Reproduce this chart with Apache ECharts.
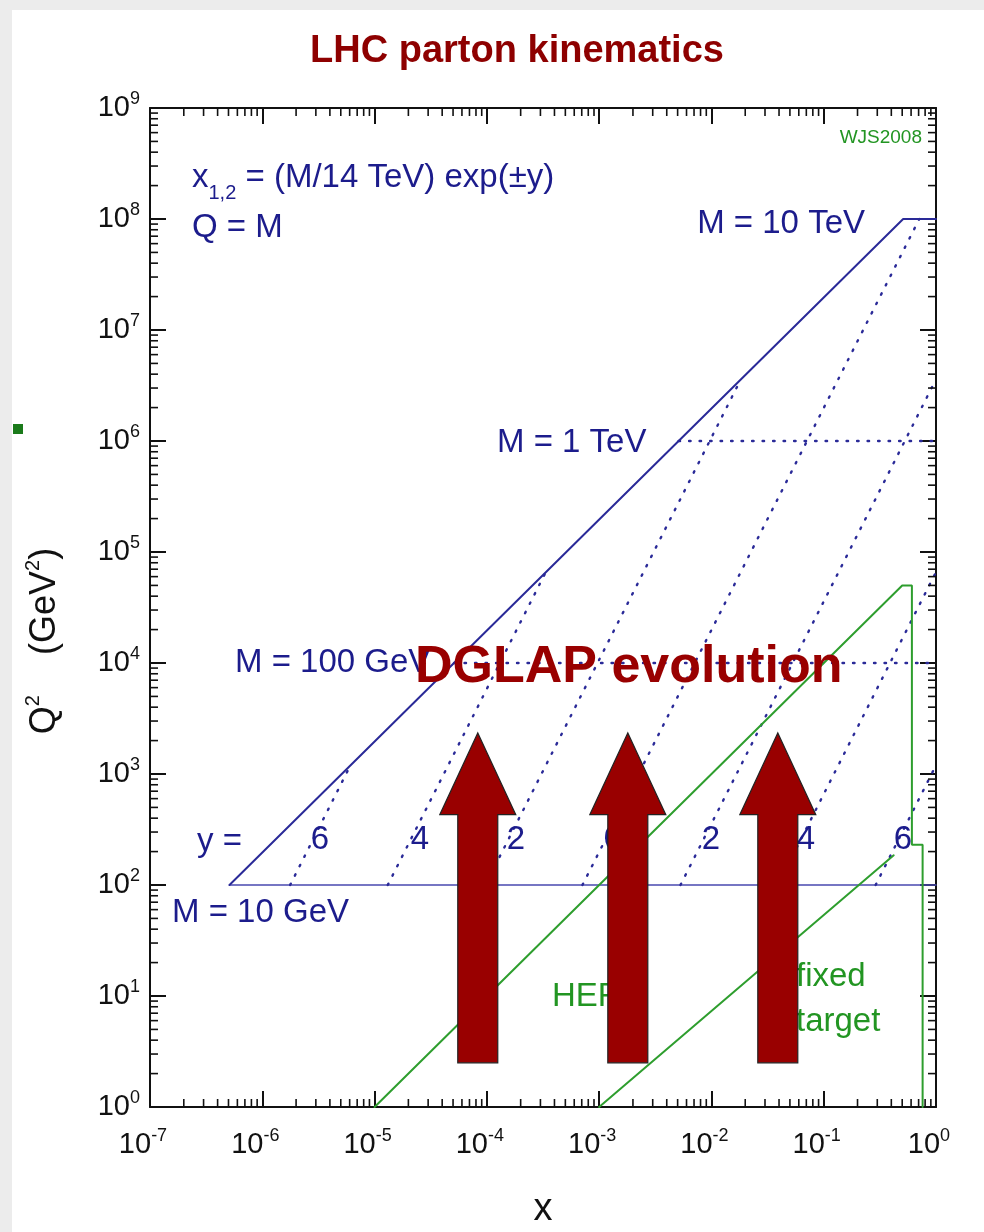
<!DOCTYPE html>
<html>
<head>
    <meta charset="utf-8"/>
    <title>LHC parton kinematics</title>
    <style>
        body {
            margin: 0;
            padding: 0;
            background: #ffffff;
        }

        #chart {
            position: absolute;
            top: 0;
            left: 0;
            width: 984px;
            height: 1232px;
        }
    </style>
    <script src="https://cdn.jsdelivr.net/npm/echarts@6/dist/echarts.min.js"></script>
</head>
<body>
<div id="chart"></div>
<script type="text/javascript">
    // axis ranges (x, Q^2)
    var xRange = [1e-7, 1];
    var qRange = [1, 1e9];

    // solid blue: kinematic limit x = M^2/s, up to M = 10 TeV
    var boundaryLine = [[5.1e-7, 100], [0.51, 1e8], [1, 1e8]];
    // solid blue: M = 10 GeV
    var lowMassLine = [[5.1e-7, 100], [1, 100]];
    // dotted blue: fixed rapidity y = 6, 4, 2, 0, -2, -4, -6
    var rapidityLines = [
        [[1.77e-6, 100], [6.1e-6, 1200]],
        [[1.31e-5, 100], [3.35e-4, 6.6e4]],
        [[9.7e-5, 100], [1.83e-2, 3.6e6]],
        [[7.1e-4, 100], [0.71, 1e8]],
        [[5.3e-3, 100], [1, 3.6e6]],
        [[3.9e-2, 100], [1, 6.6e4]],
        [[0.29, 100], [1, 1200]]
    ];
    // dotted blue: M = 100 GeV and M = 1 TeV
    var massLines = [
        [[5.1e-5, 1e4], [1, 1e4]],
        [[5.1e-3, 1e6], [1, 1e6]]
    ];
    // green: HERA and fixed target regions
    var heraLine = [[1e-5, 1], [0.5, 5e4], [0.61, 5e4], [0.61, 230], [0.76, 230], [0.76, 1]];
    var fixedTargetLine = [[1e-3, 1], [0.42, 185]];
    // DGLAP arrows: x positions and Q^2 of tail, head base, tip
    var arrowX = [8.3e-5, 1.8e-3, 3.9e-2];
    var arrowQ2 = [2.5, 430, 2340];

    var FONT = "'Liberation Sans', Arial, Helvetica, sans-serif";
    var BLUE = '#1c1c8c';
    var LINE_BLUE = '#2a2a98';
    var GREEN = '#2e9e2e';
    var TEXT_GREEN = '#229522';
    var RED = '#990000';

    // minor ticks 2..9 per decade
    var xMinor = [], yMinor = [];
    for (var d = -7; d < 0; d++) {
        for (var k = 2; k <= 9; k++) xMinor.push([k * Math.pow(10, d), 1]);
    }
    for (var e = 0; e < 9; e++) {
        for (var k2 = 2; k2 <= 9; k2++) yMinor.push([1, k2 * Math.pow(10, e)]);
    }

    var tickRich = {
        b: {fontSize: 29, fontFamily: FONT, color: '#111', lineHeight: 36, verticalAlign: 'middle'},
        s: {fontSize: 18, fontFamily: FONT, color: '#111', verticalAlign: 'top'}
    };

    function powLabel(v) {
        var p = Math.round(Math.log10(v));
        return '{b|10}{s|' + p + '}';
    }

    function frameAxis(pos, isX, showLabel) {
        var ax = {
            type: 'log',
            logBase: 10,
            min: isX ? xRange[0] : qRange[0],
            max: isX ? xRange[1] : qRange[1],
            splitNumber: isX ? 7 : 9,
            position: pos,
            axisLine: {show: true, onZero: false, lineStyle: {color: '#111', width: 2}},
            axisTick: {show: true, inside: true, length: 16, lineStyle: {color: '#111', width: 2}},
            splitLine: {show: false},
            axisLabel: {show: false}
        };
        if (showLabel) {
            ax.axisLabel = {
                show: true,
                formatter: powLabel,
                rich: tickRich,
                margin: isX ? 20 : 10,
                padding: isX ? [0, 14, 0, 0] : [0, 0, 0, 0]
            };
        }
        return ax;
    }

    function lineSeries(data, color, width, dash) {
        return {
            type: 'line',
            data: data,
            showSymbol: false,
            symbol: 'none',
            silent: true,
            animation: false,
            z: 2,
            lineStyle: {color: color, width: width, type: dash || 'solid', cap: 'round'}
        };
    }

    var series = [];
    series.push(lineSeries(lowMassLine, '#4a4ab0', 1.5));
    series.push(lineSeries(boundaryLine, LINE_BLUE, 2));
    rapidityLines.forEach(function (l) {
        series.push(lineSeries(l, LINE_BLUE, 2.4, [1.5, 9]));
    });
    massLines.forEach(function (l) {
        series.push(lineSeries(l, LINE_BLUE, 2.4, [1.5, 9]));
    });
    series.push(lineSeries(heraLine, GREEN, 2));
    series.push(lineSeries(fixedTargetLine, GREEN, 2));

    // minor ticks on bottom/top
    series.push({
        type: 'custom',
        data: xMinor,
        clip: false,
        silent: true,
        animation: false,
        z: 3,
        renderItem: function (params, api) {
            var b = api.coord([api.value(0), qRange[0]]);
            var t = api.coord([api.value(0), qRange[1]]);
            var st = {stroke: '#111', lineWidth: 1.6};
            return {
                type: 'group', children: [
                    {type: 'line', shape: {x1: b[0], y1: b[1], x2: b[0], y2: b[1] - 8}, style: st},
                    {type: 'line', shape: {x1: t[0], y1: t[1], x2: t[0], y2: t[1] + 8}, style: st}
                ]
            };
        }
    });
    // minor ticks on left/right
    series.push({
        type: 'custom',
        data: yMinor,
        clip: false,
        silent: true,
        animation: false,
        z: 3,
        renderItem: function (params, api) {
            var l = api.coord([xRange[0], api.value(1)]);
            var r = api.coord([xRange[1], api.value(1)]);
            var st = {stroke: '#111', lineWidth: 1.6};
            return {
                type: 'group', children: [
                    {type: 'line', shape: {x1: l[0], y1: l[1], x2: l[0] + 8, y2: l[1]}, style: st},
                    {type: 'line', shape: {x1: r[0], y1: r[1], x2: r[0] - 8, y2: r[1]}, style: st}
                ]
            };
        }
    });
    // DGLAP arrows
    series.push({
        type: 'custom',
        data: arrowX.map(function (x) { return [x, arrowQ2[0]]; }),
        clip: false,
        silent: true,
        animation: false,
        z: 5,
        renderItem: function (params, api) {
            var x = api.value(0);
            var tail = api.coord([x, arrowQ2[0]]);
            var neck = api.coord([x, arrowQ2[1]]);
            var tip = api.coord([x, arrowQ2[2]]);
            var cx = tail[0], sw = 20, hw = 38;
            return {
                type: 'polygon',
                shape: {
                    points: [
                        [cx - sw, tail[1]], [cx + sw, tail[1]], [cx + sw, neck[1]], [cx + hw, neck[1]],
                        [cx, tip[1]], [cx - hw, neck[1]], [cx - sw, neck[1]]
                    ]
                },
                style: {fill: RED, stroke: '#222', lineWidth: 1.2}
            };
        }
    });

    function txt(text, x, y, size, color, opts) {
        opts = opts || {};
        return {
            type: 'text',
            x: x,
            y: y,
            z: opts.z || 4,
            rotation: opts.rotation || 0,
            silent: true,
            style: {
                text: text,
                fill: color,
                fontSize: size,
                fontFamily: FONT,
                fontWeight: opts.bold ? 'bold' : 'normal',
                align: opts.align || 'left',
                verticalAlign: 'middle',
                rich: opts.rich
            }
        };
    }

    var rapidityLabels = ['6', '4', '2', '0', '2', '4', '6'];
    var rapidityLabelX = [320, 420, 516, 613, 711, 806, 903];

    var graphics = [
        {type: 'rect', shape: {x: 0, y: 0, width: 984, height: 10}, style: {fill: '#ececec'}, z: 0, silent: true},
        {type: 'rect', shape: {x: 0, y: 0, width: 12, height: 1232}, style: {fill: '#ececec'}, z: 0, silent: true},
        {type: 'rect', shape: {x: 13, y: 424, width: 10, height: 10}, style: {fill: '#1a7a1a'}, z: 1, silent: true},
        txt('LHC parton kinematics', 517, 52, 38, '#8e0000', {align: 'center', bold: true}),
        txt('{a|x}{sub|1,2}{a| = (M/14 TeV) exp(±y)}', 192, 178, 33, BLUE, {
            rich: {
                a: {fontSize: 33, fontFamily: FONT, color: BLUE, lineHeight: 50, verticalAlign: 'middle'},
                sub: {fontSize: 20, fontFamily: FONT, color: BLUE, verticalAlign: 'bottom'}
            }
        }),
        txt('Q = M', 192, 228, 33, BLUE),
        txt('M = 10 TeV', 865, 224, 33, BLUE, {align: 'right'}),
        txt('WJS2008', 922, 138, 19, TEXT_GREEN, {align: 'right'}),
        txt('M = 1 TeV', 497, 443, 33, BLUE),
        txt('M = 100 GeV', 235, 663, 33, BLUE),
        txt('DGLAP evolution', 415, 668, 52, RED, {bold: true, z: 10}),
        txt('y =', 197, 842, 33, BLUE),
        txt('M = 10 GeV', 172, 913, 33, BLUE),
        txt('HERA', 552, 997, 33, TEXT_GREEN),
        txt('fixed', 796, 977, 33, TEXT_GREEN),
        txt('target', 796, 1022, 33, TEXT_GREEN),
        txt('x', 543, 1210, 38, '#111', {align: 'center'}),
        txt('{b|Q}{s|2}{b|    (GeV}{s|2}{b|)}', 45, 641, 36, '#111', {
            align: 'center',
            rotation: Math.PI / 2,
            rich: {
                b: {fontSize: 36, fontFamily: FONT, color: '#111', lineHeight: 44, verticalAlign: 'middle'},
                s: {fontSize: 20, fontFamily: FONT, color: '#111', verticalAlign: 'top'}
            }
        })
    ];
    rapidityLabels.forEach(function (t, i) {
        graphics.push(txt(t, rapidityLabelX[i], 840, 33, BLUE, {align: 'center', z: 4}));
    });

    var chart = echarts.init(document.getElementById('chart'), null, {renderer: 'canvas'});
    chart.setOption({
        animation: false,
        backgroundColor: '#ffffff',
        grid: {left: 150, right: 48, top: 108, bottom: 125, containLabel: false, outerBoundsMode: 'none'},
        xAxis: [frameAxis('bottom', true, true), frameAxis('top', true, false)],
        yAxis: [frameAxis('left', false, true), frameAxis('right', false, false)],
        series: series,
        graphic: {elements: graphics}
    });
</script>
</body>
</html>
